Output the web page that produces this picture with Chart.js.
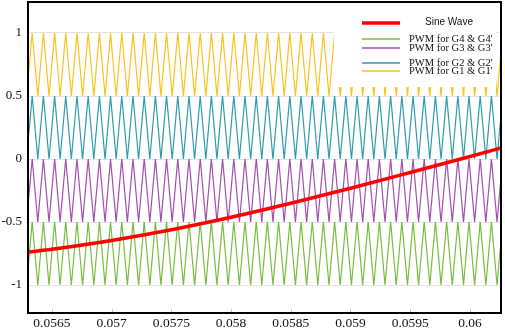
<!DOCTYPE html>
<html>
<head>
<meta charset="utf-8">
<script src="https://cdn.jsdelivr.net/npm/chart.js@4.4.1/dist/chart.umd.min.js"></script>
<style>
  body { margin: 0; background: #fff; }
  #wrap { width: 505px; height: 331px; }
</style>
</head>
<body>
<div id="wrap"><canvas id="pwmChart"></canvas></div>
<script>
// axis ticks
const xTicks = [0.0565, 0.057, 0.0575, 0.058, 0.0585, 0.059, 0.0595, 0.06];
const yTicks = [-1, -0.5, 0, 0.5, 1];

// reference sine wave
const sineTime = [0.0563, 0.0565, 0.057, 0.0575, 0.058, 0.0585, 0.059, 0.0595, 0.06, 0.06026];
const sineValue = [-0.739, -0.716, -0.646, -0.561, -0.462, -0.351, -0.232, -0.107, 0.020, 0.087];

// triangle carrier corner times (trough, peak, trough, ...), shared by all four carriers
const carrierTime = [
  0.056288, 0.056335, 0.056382, 0.056429, 0.056476, 0.056523, 0.056569, 0.056616,
  0.056663, 0.056710, 0.056757, 0.056804, 0.056851, 0.056898, 0.056945, 0.056991,
  0.057038, 0.057085, 0.057132, 0.057179, 0.057226, 0.057273, 0.057320, 0.057367,
  0.057413, 0.057460, 0.057507, 0.057554, 0.057601, 0.057648, 0.057695, 0.057742,
  0.057789, 0.057835, 0.057882, 0.057929, 0.057976, 0.058023, 0.058070, 0.058117,
  0.058164, 0.058211, 0.058257, 0.058304, 0.058351, 0.058398, 0.058445, 0.058492,
  0.058539, 0.058586, 0.058633, 0.058680, 0.058726, 0.058773, 0.058820, 0.058867,
  0.058914, 0.058961, 0.059008, 0.059055, 0.059102, 0.059148, 0.059195, 0.059242,
  0.059289, 0.059336, 0.059383, 0.059430, 0.059477, 0.059524, 0.059570, 0.059617,
  0.059664, 0.059711, 0.059758, 0.059805, 0.059852, 0.059899, 0.059946, 0.059992,
  0.060039, 0.060086, 0.060133, 0.060180, 0.060227, 0.060274
];

// carrier bands [low, high]
const bandG4 = [-1, -0.5];
const bandG3 = [-0.5, 0];
const bandG2 = [0, 0.5];
const bandG1 = [0.5, 1];

function carrier(band) {
  return carrierTime.map((t, i) => ({ x: t, y: i % 2 === 0 ? band[0] : band[1] }));
}

const serif = 'Liberation Serif';
const sans = 'Liberation Sans';

// white legend box drawn inside the plot, top right
const innerLegend = {
  id: 'innerLegend',
  afterDatasetsDraw(chart) {
    const ctx = chart.ctx;
    const a = chart.chartArea;
    const left = a.right - 167;
    const top = a.top + 1;
    const rows = [21, 37, 46, 61, 69];
    ctx.save();
    ctx.fillStyle = '#ffffff';
    ctx.fillRect(left, top, 162, 84);
    chart.data.datasets.forEach((ds, i) => {
      const y = a.top + rows[i];
      ctx.strokeStyle = ds.borderColor;
      ctx.lineWidth = i === 0 ? 3.5 : 1.5;
      ctx.beginPath();
      ctx.moveTo(left + 28, y);
      ctx.lineTo(left + 66, y);
      ctx.stroke();
      ctx.fillStyle = '#111';
      ctx.textBaseline = 'middle';
      if (i === 0) {
        ctx.font = '10px ' + sans;
        ctx.fillText(ds.label, left + 91, y - 1);
      } else {
        ctx.font = '10.5px ' + serif;
        ctx.fillText(ds.label, left + 75, y + 0.5);
      }
    });
    ctx.restore();
  },
  afterDraw(chart) {
    const ctx = chart.ctx;
    const a = chart.chartArea;
    const xs = chart.scales.x;
    ctx.save();
    ctx.strokeStyle = '#c8c8c8';
    ctx.lineWidth = 1;
    xTicks.forEach(v => {
      const px = Math.round(xs.getPixelForValue(v)) + 0.5;
      ctx.beginPath();
      ctx.moveTo(px, a.bottom);
      ctx.lineTo(px, a.bottom - 4);
      ctx.stroke();
    });
    ctx.strokeStyle = '#000';
    ctx.lineWidth = 2;
    ctx.strokeRect(a.left, a.top, a.right - a.left, a.bottom - a.top);
    ctx.restore();
  }
};

new Chart(document.getElementById('pwmChart'), {
  type: 'line',
  data: {
    datasets: [
      {
        label: 'Sine Wave',
        data: sineTime.map((t, i) => ({ x: t, y: sineValue[i] })),
        borderColor: '#ff0000',
        borderWidth: 3.5,
        cubicInterpolationMode: 'monotone',
        pointRadius: 0
      },
      {
        label: "PWM for G4 & G4'",
        data: carrier(bandG4),
        borderColor: '#79bd3e',
        borderWidth: 1.2,
        pointRadius: 0
      },
      {
        label: "PWM for G3 & G3'",
        data: carrier(bandG3),
        borderColor: '#a24fae',
        borderWidth: 1.2,
        pointRadius: 0
      },
      {
        label: "PWM for G2 & G2'",
        data: carrier(bandG2),
        borderColor: '#2c9dab',
        borderWidth: 1.2,
        pointRadius: 0
      },
      {
        label: "PWM for G1 & G1'",
        data: carrier(bandG1),
        borderColor: '#fbc21e',
        borderWidth: 1.2,
        pointRadius: 0
      }
    ]
  },
  options: {
    responsive: true,
    maintainAspectRatio: false,
    animation: false,
    layout: { padding: { top: 2, right: 4, left: 0, bottom: 0 } },
    scales: {
      x: {
        type: 'linear',
        min: 0.0563,
        max: 0.06026,
        afterBuildTicks: s => { s.ticks = xTicks.map(v => ({ value: v })); },
        afterFit: s => { s.height = 18; s.paddingLeft = 0; s.paddingRight = 0; },
        grid: { display: false, drawTicks: false },
        border: { display: false },
        ticks: {
          padding: 2,
          color: '#111',
          font: { family: serif, size: 13.5 },
          maxRotation: 0,
          callback: v => String(Number(v.toFixed(4)))
        }
      },
      y: {
        min: -1.222,
        max: 1.246,
        afterBuildTicks: s => { s.ticks = yTicks.map(v => ({ value: v })); },
        afterFit: s => { s.width = 28; s.paddingTop = 0; s.paddingBottom = 0; },
        grid: { color: '#e3e3e3', lineWidth: 1, drawTicks: false },
        border: { display: false },
        ticks: {
          padding: 6,
          color: '#111',
          font: { family: serif, size: 13 },
          callback: v => String(v)
        }
      }
    },
    plugins: {
      legend: { display: false },
      tooltip: { enabled: false }
    }
  },
  plugins: [innerLegend]
});
</script>
</body>
</html>
